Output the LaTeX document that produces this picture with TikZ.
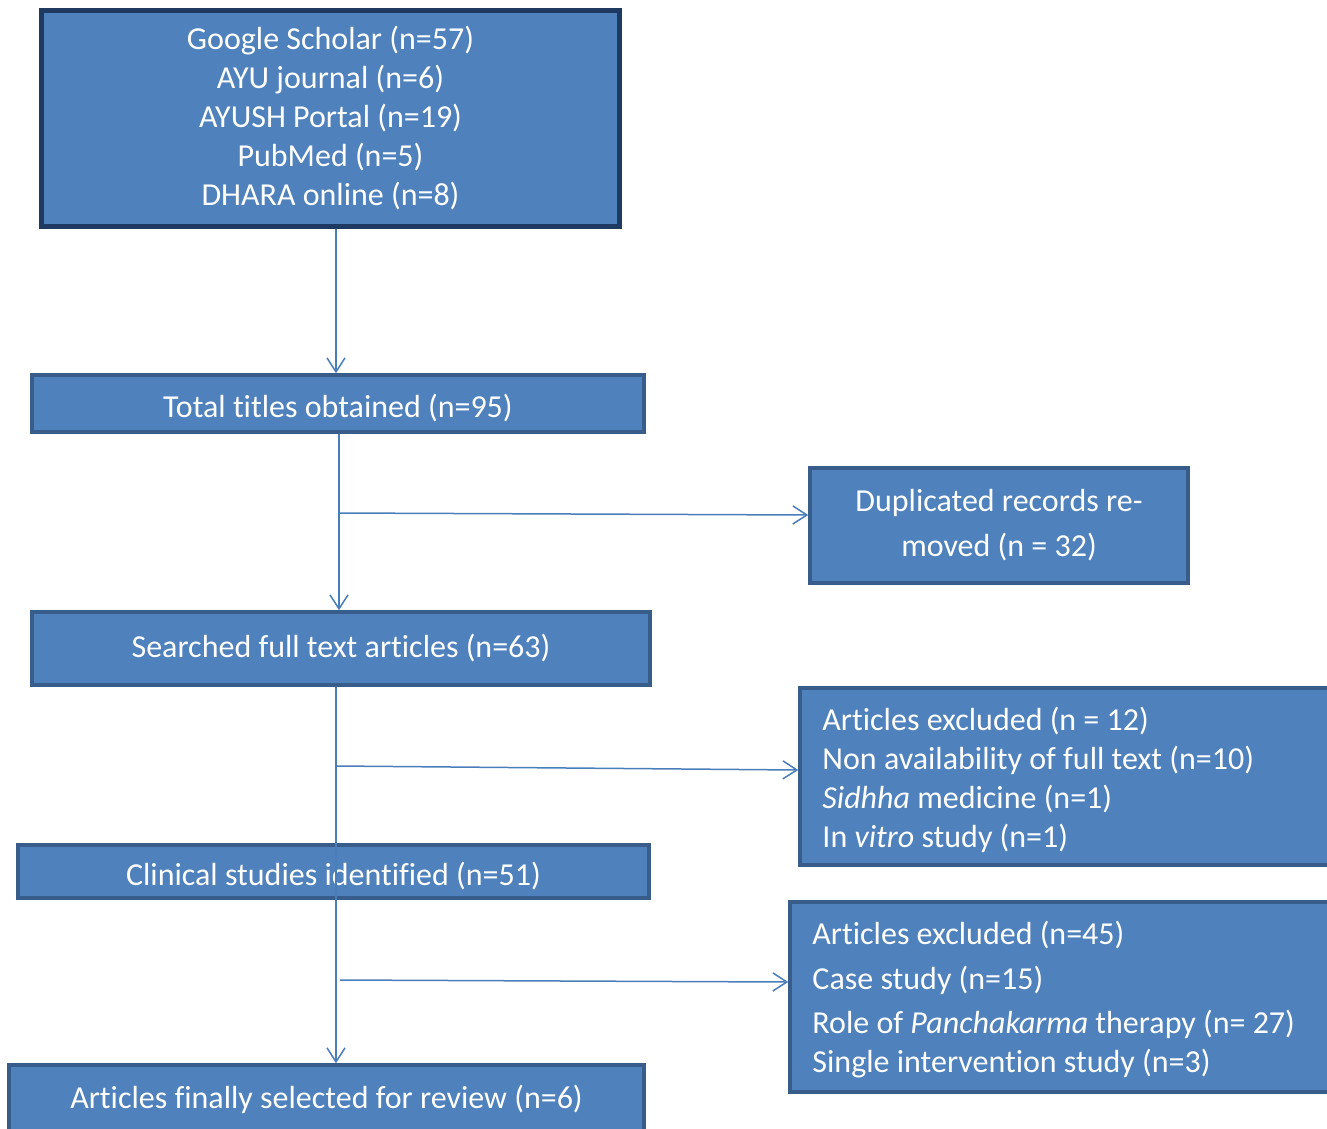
\documentclass[tikz,border=0pt]{standalone}
\usepackage{fontspec}
\setmainfont{Carlito}[Ligatures=NoCommon]
\usetikzlibrary{arrows.meta}
\definecolor{boxfill}{HTML}{4F81BD}
\definecolor{boxedge}{HTML}{385D8A}
\definecolor{topedge}{HTML}{1F3A60}
\definecolor{linec}{HTML}{4A7EBB}
\begin{document}
\begin{tikzpicture}[x=1pt,y=-1pt,
  box/.style={draw=boxedge, line width=3.5pt, fill=boxfill, text=white,
    font=\fontsize{32}{39}\selectfont, inner sep=0pt, align=center},
  lowertext/.style={text height=31pt, text depth=3pt},
  listtext/.style={text=white, font=\fontsize{32}{39}\selectfont, inner sep=0pt, align=left, anchor=west},
  conn/.style={draw=linec, line width=1.5pt, -{Straight Barb[length=14pt,width=18pt,line width=1.5pt]}}
]
\useasboundingbox (0,0) rectangle (1327,1128);
\node[box, draw=topedge, line width=4.5pt, minimum width=578pt, minimum height=216pt] (top) at (330.5,118.5)
  {Google Scholar (n=57)\\AYU journal (n=6)\\AYUSH Portal (n=19)\\PubMed (n=5)\\DHARA online (n=8)};
\node[box, lowertext, minimum width=612pt, minimum height=57pt] (total) at (338,403.5) {Total titles obtained (n=95)};
\node[box, minimum width=378pt, minimum height=115pt] (dup) at (999,525.5) {Duplicated records re-\\[6pt]moved (n = 32)};
\node[box, minimum width=618pt, minimum height=73pt] (search) at (341,648.5) {Searched full text articles (n=63)};
\node[box, minimum width=558pt, minimum height=177pt] (ex1) at (1079,776.5) {};
\node[listtext] (ex1t) at ([xshift=24pt,yshift=-3pt]ex1.west)
  {Articles excluded (n = 12)\\Non availability of full text (n=10)\\\textit{Sidhha} medicine (n=1)\\In \textit{vitro} study (n=1)};
\node[box, lowertext, minimum width=631pt, minimum height=53pt] (clin) at (333.5,871.5) {Clinical studies identified (n=51)};
\node[box, minimum width=568pt, minimum height=190pt] (ex2) at (1074,997) {};
\node[listtext] (ex2t) at ([xshift=24pt,yshift=-3pt]ex2.west)
  {Articles excluded (n=45)\\[6pt]Case study (n=15)\\[5pt]Role of \textit{Panchakarma} therapy (n= 27)\\Single intervention study (n=3)};
\node[box, minimum width=635pt, minimum height=68pt] (final) at (326.5,1099) {Articles finally selected for review (n=6)};
\coordinate (b1) at (339,513);
\coordinate (b2) at (337,766);
\coordinate (b3) at (340,980);
\draw[conn] ([xshift=5.5pt]top.south) -- ([xshift=5.5pt]top.south |- total.north);
\draw[conn] ([xshift=1pt]total.south) -- ([xshift=1pt]total.south |- search.north);
\draw[conn] (b1) -- ([yshift=10.5pt]dup.west);
\draw[conn] ([xshift=-5pt]search.south) -- ([xshift=-5pt]search.south |- final.north);
\draw[conn] (b2) -- ([yshift=6.5pt]ex1.west);
\draw[conn] (b3) -- ([yshift=15pt]ex2.west);
\end{tikzpicture}
\end{document}
